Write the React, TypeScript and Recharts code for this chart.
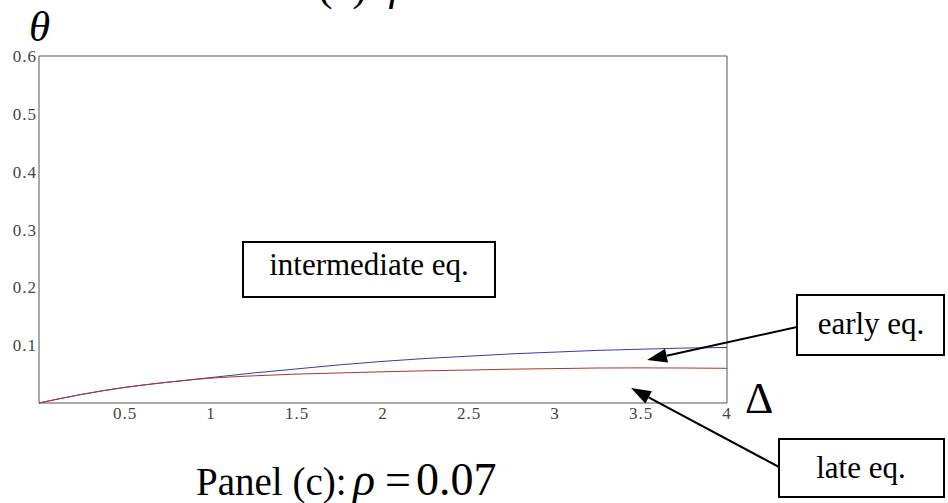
import React from 'react';
import { LineChart, Line, XAxis, YAxis } from 'recharts';

// Delta values along the x axis
const deltas = [0, 0.25, 0.5, 0.75, 1, 1.25, 1.5, 1.75, 2, 2.25, 2.5, 2.75, 3, 3.25, 3.5, 3.75, 4];
// theta boundary of the late equilibrium (red)
const lateTheta = [0, 0.015, 0.027, 0.036, 0.043, 0.047, 0.050, 0.052, 0.054, 0.0557, 0.057, 0.0585, 0.0595, 0.0605, 0.0607, 0.0605, 0.060];
// theta boundary of the early equilibrium (blue)
const earlyTheta = [0, 0.015, 0.027, 0.036, 0.044, 0.052, 0.059, 0.066, 0.072, 0.077, 0.081, 0.085, 0.088, 0.091, 0.093, 0.095, 0.096];

const xTicks = [0.5, 1, 1.5, 2, 2.5, 3, 3.5, 4];
const yTicks = [0.1, 0.2, 0.3, 0.4, 0.5, 0.6];

const data = deltas.map((d, i) => ({ delta: d, late: lateTheta[i], early: earlyTheta[i] }));

const serif = '"Liberation Serif", "DejaVu Serif", serif';
const axisGrey = '#555';

function XTick(props: any) {
  const { x, y, payload } = props;
  return (
    <text x={x} y={y + 4} dy="0.71em" textAnchor="middle" fontFamily={serif} fontSize={17} fill="#444" letterSpacing={1}>
      {payload.value}
    </text>
  );
}

function YTick(props: any) {
  const { x, y, payload } = props;
  return (
    <text x={x - 2} y={y} dy="0.36em" textAnchor="end" fontFamily={serif} fontSize={17} fill="#444" letterSpacing={1}>
      {payload.value}
    </text>
  );
}

function Arrow({ x1, y1, x2, y2 }: { x1: number; y1: number; x2: number; y2: number }) {
  const ang = Math.atan2(y2 - y1, x2 - x1);
  const len = 20;
  const w = 7;
  const bx = x2 - len * Math.cos(ang);
  const by = y2 - len * Math.sin(ang);
  const px = -Math.sin(ang) * w;
  const py = Math.cos(ang) * w;
  return (
    <g>
      <line x1={x1} y1={y1} x2={bx} y2={by} stroke="#000" strokeWidth={2} />
      <polygon points={`${x2},${y2} ${bx + px},${by + py} ${bx - px},${by - py}`} fill="#000" />
    </g>
  );
}

export default function App() {
  return (
    <div style={{ position: 'absolute', left: 0, top: 0, width: 948, height: 503, background: '#fff' }}>
      <LineChart width={948} height={503} data={data} margin={{ top: 56, right: 221, left: 0, bottom: 0 }}>
        <XAxis
          xAxisId="bm"
          dataKey="delta"
          type="number"
          domain={[0, 4]}
          ticks={xTicks}
          orientation="bottom"
          mirror
          height={0}
          axisLine={false}
          tickSize={7}
          tickLine={{ stroke: axisGrey }}
          tick={false}
        />
        <XAxis
          dataKey="delta"
          type="number"
          domain={[0, 4]}
          ticks={xTicks}
          height={100}
          axisLine={{ stroke: axisGrey }}
          tickLine={false}
          tickSize={0}
          tickMargin={0}
          tick={<XTick />}
        />
        <XAxis
          xAxisId="top"
          dataKey="delta"
          type="number"
          domain={[0, 4]}
          ticks={xTicks}
          orientation="top"
          mirror
          axisLine={{ stroke: axisGrey }}
          tickSize={6}
          tickLine={{ stroke: axisGrey }}
          tick={false}
        />
        <YAxis
          yAxisId="lm"
          type="number"
          domain={[0, 0.6]}
          ticks={yTicks}
          mirror
          width={0}
          axisLine={false}
          tickSize={7}
          tickLine={{ stroke: axisGrey }}
          tick={false}
        />
        <YAxis
          type="number"
          domain={[0, 0.6]}
          ticks={yTicks}
          width={39}
          axisLine={{ stroke: axisGrey }}
          tickLine={false}
          tickSize={0}
          tickMargin={0}
          tick={<YTick />}
        />
        <YAxis
          yAxisId="right"
          type="number"
          domain={[0, 0.6]}
          ticks={yTicks}
          orientation="right"
          mirror
          axisLine={{ stroke: axisGrey }}
          tickSize={7}
          tickLine={{ stroke: axisGrey }}
          tick={false}
        />
        <Line dataKey="early" type="monotone" stroke="#3a3aa8" strokeWidth={1} dot={false} isAnimationActive={false} />
        <Line dataKey="late" type="monotone" stroke="#b03434" strokeWidth={1} dot={false} isAnimationActive={false} />
      </LineChart>

      <svg width={948} height={503} style={{ position: 'absolute', left: 0, top: 0, pointerEvents: 'none' }}>
        <text x={318} y={0} fontFamily={serif} fontSize={44}>
          (c): <tspan fontStyle="italic">ρ</tspan>
        </text>
        <text x={29} y={41} fontFamily={serif} fontSize={43} fontStyle="italic">θ</text>
        <text x={745} y={413} fontFamily={serif} fontSize={44}>Δ</text>

        <rect x={243} y={242} width={252} height={55} fill="#fff" stroke="#000" strokeWidth={2} />
        <text x={369} y={275} textAnchor="middle" fontFamily={serif} fontSize={31}>intermediate eq.</text>

        <rect x={797} y={295} width={147} height={60} fill="#fff" stroke="#000" strokeWidth={2} />
        <text x={871} y={334} textAnchor="middle" fontFamily={serif} fontSize={31}>early eq.</text>
        <Arrow x1={797} y1={327} x2={647} y2={360} />

        <rect x={779} y={439} width={165} height={58} fill="#fff" stroke="#000" strokeWidth={2} />
        <text x={861} y={478} textAnchor="middle" fontFamily={serif} fontSize={31}>late eq.</text>
        <Arrow x1={779} y1={467} x2={631} y2={388} />

        <text y={495} fontFamily={serif}>
          <tspan x={196} fontSize={39}>Panel (c):</tspan>
          <tspan x={353} fontSize={46} fontStyle="italic">ρ</tspan>
          <tspan x={385} fontSize={46}>=</tspan>
          <tspan x={416} fontSize={46}>0.07</tspan>
        </text>
      </svg>
    </div>
  );
}
